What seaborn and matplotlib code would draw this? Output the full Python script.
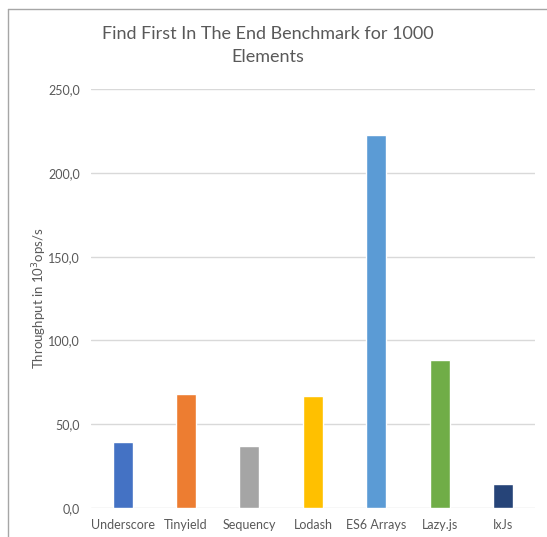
import matplotlib
matplotlib.use('Agg')
import matplotlib.pyplot as plt
import seaborn as sns
import pandas as pd
from matplotlib.lines import Line2D
from matplotlib.ticker import FuncFormatter

# dados
bibliotecas = ['Underscore', 'Tinyield', 'Sequency', 'Lodash', 'ES6 Arrays', 'Lazy.js', 'IxJs']
throughput = [39.5, 68.1, 37.1, 66.9, 222.5, 88.4, 14.2]
cores = ['#4472C4', '#ED7D31', '#A5A5A5', '#FFC000', '#5B9BD5', '#70AD47', '#264478']

df = pd.DataFrame({'lib': bibliotecas, 'valor': throughput})

sns.set_style('white')
plt.rcParams['font.family'] = ['Lato', 'DejaVu Sans']

fig = plt.figure(figsize=(5.47, 5.37), dpi=100)
ax = fig.add_axes([0.166, 0.0546, 0.812, 0.779])

sns.barplot(data=df, x='lib', y='valor', hue='lib', palette=cores,
            width=0.315, legend=False, ax=ax, saturation=1)

ax.set_ylim(0, 250)
ax.set_yticks([0, 50, 100, 150, 200, 250])
ax.yaxis.set_major_formatter(FuncFormatter(lambda v, p: f'{v:.1f}'.replace('.', ',')))
ax.grid(axis='y', color='#D9D9D9', linewidth=1)
ax.set_axisbelow(True)
for s in ax.spines.values():
    s.set_visible(False)
ax.tick_params(axis='both', length=0, colors='#595959', labelsize=9, pad=8)
ax.set_xlabel('')
ax.set_ylabel('Throughput in 10$^3$ops/s', color='#595959', fontsize=9.5)
ax.yaxis.set_label_coords(-0.094, 0.5)
ax.set_xlim(-0.5, 6.5)

fig.text(0.489, 0.915, 'Find First In The End Benchmark for 1000\nElements',
         ha='center', va='center', fontsize=13, color='#595959', linespacing=1.5)

# borda do grafico (so topo e esquerda aparecem)
x0 = 7.5 / 547
y0 = 1 - 8.5 / 537
fig.lines.append(Line2D([x0, x0], [0, y0], transform=fig.transFigure, color='#A6A6A6', linewidth=1))
fig.lines.append(Line2D([x0, 1], [y0, y0], transform=fig.transFigure, color='#A6A6A6', linewidth=1))

fig.savefig('out.png', dpi=100)
